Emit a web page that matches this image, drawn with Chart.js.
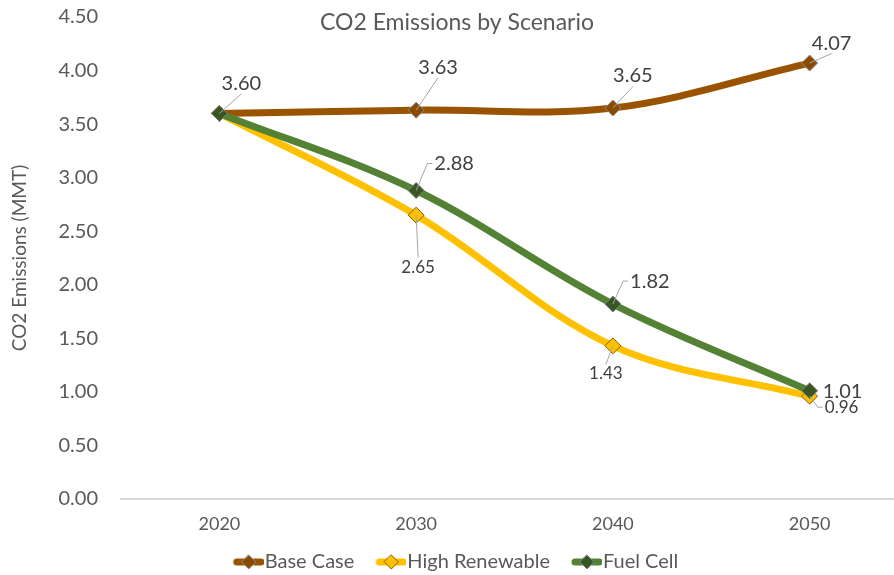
<!DOCTYPE html>
<html>
<head>
<meta charset="utf-8">
<script src="https://cdn.jsdelivr.net/npm/chart.js@4.4.0/dist/chart.umd.min.js"></script>
<style>
  html, body { margin: 0; padding: 0; background: #fff; overflow: hidden; }
  #wrap { width: 917px; height: 575px; }
</style>
</head>
<body>
<div id="wrap"><canvas id="chart"></canvas></div>
<script>
// datos
const years = ['2020', '2030', '2040', '2050'];
const baseCase = [3.60, 3.63, 3.65, 4.07];
const highRenewable = [3.60, 2.65, 1.43, 0.96];
const fuelCell = [3.60, 2.88, 1.82, 1.01];
const seriesNames = ['Base Case', 'High Renewable', 'Fuel Cell'];
const yMin = 0;
const yMax = 4.5;
const yStep = 0.5;

const chartTitle = 'CO2 Emissions by Scenario';
const yTitle = 'CO2 Emissions (MMT)';

const FONT = 'Lato, "Open Sans", sans-serif';
const textColor = '#595959';

// posicion de cada etiqueta respecto al punto (dx, dy), null = sin etiqueta
const labelOffsets = [
  [[22, -30], [22, -43], [20, -32], [22, -20]],
  [null, [2, 52], [-7, 28], [32, 11]],
  [null, [38, -27], [37, -23], [33, 1]],
];
const labelSizes = [20, 17, 20];

const lineColors = ['#9a5300', '#ffc000', '#548235'];
const markerFill = ['#8a4a00', '#ffc000', '#375623'];
const markerBorder = ['#8c8c8c', '#7f6000', '#7f7f7f'];

// icono de leyenda: linea + rombo
function legendIcon(i) {
  const c = document.createElement('canvas');
  c.width = 39;
  c.height = 16;
  const g = c.getContext('2d');
  g.strokeStyle = lineColors[i];
  g.lineWidth = 7;
  g.lineCap = 'round';
  g.beginPath();
  g.moveTo(12, 8);
  g.lineTo(36, 8);
  g.stroke();
  g.beginPath();
  g.moveTo(24, 1);
  g.lineTo(31, 8);
  g.lineTo(24, 15);
  g.lineTo(17, 8);
  g.closePath();
  g.fillStyle = markerFill[i];
  g.fill();
  g.lineWidth = 1;
  g.strokeStyle = markerBorder[i];
  g.stroke();
  return c;
}
const icons = [0, 1, 2].map(legendIcon);

const overlayTitle = {
  id: 'overlayTitle',
  afterDraw(chart) {
    const ctx = chart.ctx;
    ctx.save();
    ctx.font = `23px ${FONT}`;
    ctx.fillStyle = textColor;
    ctx.textAlign = 'center';
    ctx.textBaseline = 'middle';
    ctx.fillText(chartTitle, 457, 23);
    ctx.restore();
  }
};

// altura fija de la leyenda
const legendHeight = {
  id: 'legendHeight',
  beforeInit(chart) {
    const fit = chart.legend.fit;
    chart.legend.fit = function () {
      fit.call(this);
      this.height = 45;
    };
  }
};

const pointLabels = {
  id: 'pointLabels',
  afterDatasetsDraw(chart) {
    const ctx = chart.ctx;
    chart.data.datasets.forEach((ds, i) => {
      const meta = chart.getDatasetMeta(i);
      ctx.save();
      ctx.font = `${labelSizes[i]}px ${FONT}`;
      ctx.textAlign = 'center';
      ctx.textBaseline = 'middle';
      ctx.strokeStyle = '#a6a6a6';
      ctx.lineWidth = 1;
      ctx.fillStyle = '#404040';
      meta.data.forEach((pt, j) => {
        const off = labelOffsets[i][j];
        if (!off) return;
        const text = ds.data[j].toFixed(2);
        const w = ctx.measureText(text).width;
        const h = labelSizes[i] * 0.75;
        const cx = pt.x + off[0];
        const cy = pt.y + off[1];
        ctx.beginPath();
        if (Math.abs(off[0]) > w / 2 + 4) {
          const side = Math.sign(off[0]);
          const ex = cx - side * (w / 2 + 2);
          if (Math.hypot(ex - pt.x, cy - pt.y) > 16) {
            ctx.moveTo(pt.x, pt.y);
            ctx.lineTo(ex - side * 5, cy);
            ctx.lineTo(ex, cy);
          }
        } else {
          const ey = off[1] < 0 ? cy + h / 2 + 3 : cy - h / 2 - 3;
          ctx.moveTo(pt.x, pt.y);
          ctx.lineTo(cx, ey);
        }
        ctx.stroke();
        ctx.fillText(text, cx, cy);
      });
      ctx.restore();
    });
  }
};

const seriesData = [baseCase, highRenewable, fuelCell];
const drawOrder = [2, 1, 0];

const chart = new Chart(document.getElementById('chart'), {
  type: 'line',
  data: {
    labels: years,
    datasets: seriesData.map((d, i) => ({
      label: seriesNames[i],
      data: d,
      order: drawOrder[i],
      borderColor: lineColors[i],
      borderWidth: 7,
      tension: 0.35,
      pointStyle: 'rectRot',
      pointRadius: 8,
      pointHoverRadius: 8,
      pointBackgroundColor: markerFill[i],
      pointBorderColor: markerBorder[i],
      pointBorderWidth: 1,
    })),
  },
  options: {
    responsive: true,
    maintainAspectRatio: false,
    animation: false,
    layout: { padding: { top: 17, right: 5, bottom: 0, left: 0 } },
    plugins: {
      title: { display: false },
      tooltip: { enabled: false },
      legend: {
        position: 'bottom',
        labels: {
          usePointStyle: true,
          pointStyleWidth: 21,
          color: textColor,
          font: { family: FONT, size: 20 },
          padding: 22,
          sort: (a, b) => a.datasetIndex - b.datasetIndex,
          generateLabels(chart) {
            const items = Chart.defaults.plugins.legend.labels.generateLabels(chart);
            items.forEach((it) => { it.pointStyle = icons[it.datasetIndex]; });
            return items;
          },
        },
      },
    },
    scales: {
      x: {
        offset: true,
        grid: { display: false },
        border: { display: true, color: '#d9d9d9', width: 2 },
        ticks: { color: textColor, font: { family: FONT, size: 18 }, padding: 6 },
        afterFit: (s) => { s.height = 31; },
      },
      y: {
        min: yMin,
        max: yMax,
        grid: { display: false },
        border: { display: false },
        ticks: {
          stepSize: yStep,
          color: textColor,
          font: { family: FONT, size: 20 },
          padding: 15,
          callback: (v) => Number(v).toFixed(2),
        },
        title: {
          display: true,
          text: yTitle,
          color: textColor,
          font: { family: FONT, size: 19 },
          padding: { top: 8, bottom: 0 },
        },
        afterFit: (s) => {
          s.width = 121;
          s.paddingTop = 10;
          s.paddingBottom = 10;
        },
      },
    },
  },
  plugins: [overlayTitle, legendHeight, pointLabels],
});
</script>
</body>
</html>
